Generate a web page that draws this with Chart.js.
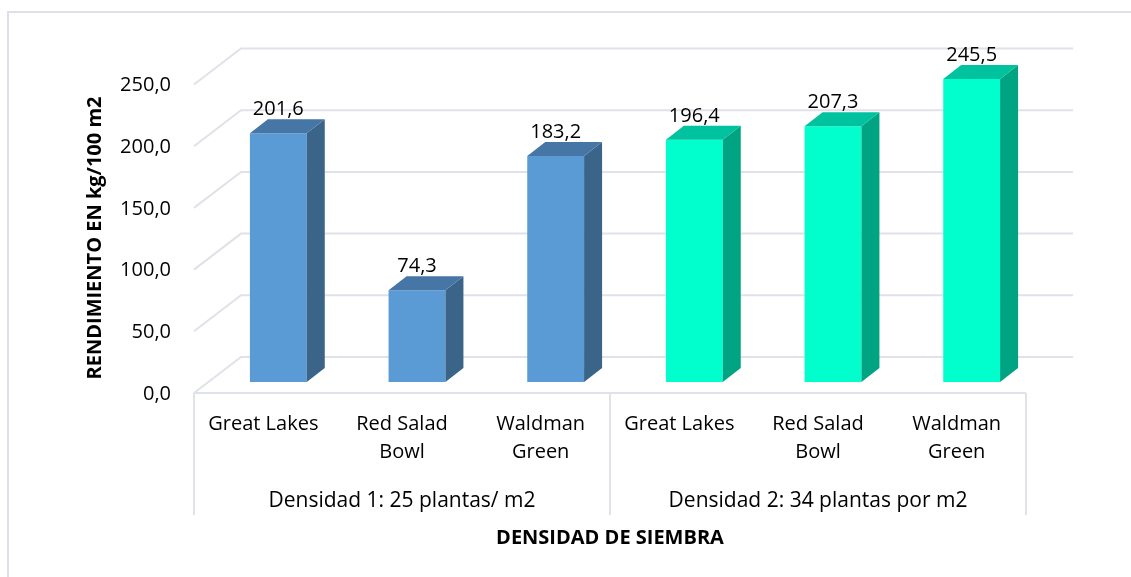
<!DOCTYPE html>
<html>
<head>
<meta charset="utf-8">
<script src="https://cdn.jsdelivr.net/npm/chart.js@4/dist/chart.umd.min.js"></script>
<style>
  html, body { margin: 0; padding: 0; background: #ffffff; }
  #wrap { width: 1131px; height: 577px; position: relative; }
</style>
</head>
<body>
<div id="wrap"><canvas id="c" width="1131" height="577"></canvas></div>
<script>
// ---- data ----
const categories = [["Great Lakes"], ["Red Salad", "Bowl"], ["Waldman", "Green"],
                    ["Great Lakes"], ["Red Salad", "Bowl"], ["Waldman", "Green"]];
const yieldValues = [201.6, 74.3, 183.2, 196.4, 207.3, 245.5];
const groupLabels = ["Densidad 1: 25 plantas/ m2", "Densidad 2: 34 plantas por m2"];
const groupSizes = [3, 3];
const yTicks = [0, 50, 100, 150, 200, 250];
const yTitle = "RENDIMIENTO EN kg/100 m2";
const xTitle = "DENSIDAD DE SIEMBRA";

// ---- styling ----
const FONT = "'Open Sans', 'Noto Sans', sans-serif";
const faceColors = [
  { front: "#5B9BD5", top: "#4676A6", side: "#3A6589" },
  { front: "#00FFCC", top: "#00C29E", side: "#00A482" }
];
const barGroup = [];
groupSizes.forEach((n, g) => { for (let i = 0; i < n; i++) barGroup.push(g); });

const fmt = v => v.toFixed(1).replace(".", ",");

// 3D geometry offsets (pixels, relative to bar front plane)
const BACK = { dx: 32, dy: -25 };
const FRONT = { dx: -15, dy: 11 };
const BAR_DEPTH = { dx: 18, dy: -14 };
const GRID = "#dfe2e8";

const plot3d = {
  id: "plot3d",
  beforeDraw(chart) {
    const ctx = chart.ctx;
    ctx.save();
    ctx.strokeStyle = "#dde1e7";
    ctx.lineWidth = 2;
    ctx.strokeRect(8, 12, 1140, 600);
    ctx.restore();
  },
  beforeDatasetsDraw(chart) {
    const { ctx, chartArea: a, scales: { x, y } } = chart;
    ctx.save();
    ctx.strokeStyle = GRID;
    ctx.lineWidth = 2;
    yTicks.forEach(v => {
      const py = y.getPixelForValue(v);
      ctx.beginPath();
      ctx.moveTo(a.left + FRONT.dx, py + FRONT.dy);
      ctx.lineTo(a.left + BACK.dx, py + BACK.dy);
      ctx.lineTo(a.right + BACK.dx, py + BACK.dy);
      ctx.stroke();
    });
    // category table
    const y0 = y.getPixelForValue(0) + FRONT.dy;
    const yEnd = 515;
    ctx.beginPath();
    ctx.moveTo(a.left + FRONT.dx, y0);
    ctx.lineTo(a.right + FRONT.dx, y0);
    ctx.stroke();
    const step = (x.getPixelForValue(1) - x.getPixelForValue(0));
    const edges = [0];
    let acc = 0;
    groupSizes.forEach(s => { acc += s; edges.push(acc); });
    edges.forEach(e => {
      const px = x.getPixelForValue(0) - step / 2 + e * step + FRONT.dx;
      ctx.beginPath();
      ctx.moveTo(px, y0);
      ctx.lineTo(px, yEnd);
      ctx.stroke();
    });
    // group labels
    ctx.fillStyle = "#000";
    ctx.font = "21px " + FONT;
    ctx.textAlign = "center";
    ctx.textBaseline = "middle";
    for (let g = 0; g < groupLabels.length; g++) {
      const cx = x.getPixelForValue(0) - step / 2 + (edges[g] + edges[g + 1]) / 2 * step + FRONT.dx;
      ctx.fillText(groupLabels[g], cx, 501);
    }
    // axis titles
    ctx.font = "bold 20px " + FONT;
    ctx.fillText(xTitle, (a.left + a.right) / 2 + FRONT.dx, 538);
    ctx.save();
    ctx.translate(95, 238);
    ctx.rotate(-Math.PI / 2);
    ctx.fillText(yTitle, 0, 0);
    ctx.restore();
    ctx.restore();
  },
  afterDatasetsDraw(chart) {
    const { ctx } = chart;
    const meta = chart.getDatasetMeta(0);
    ctx.save();
    meta.data.forEach((bar, i) => {
      const c = faceColors[barGroup[i]];
      const w = bar.width;
      const l = bar.x - w / 2, r = bar.x + w / 2;
      const top = bar.y, base = bar.base;
      // side face
      ctx.fillStyle = c.side;
      ctx.beginPath();
      ctx.moveTo(r, top);
      ctx.lineTo(r + BAR_DEPTH.dx, top + BAR_DEPTH.dy);
      ctx.lineTo(r + BAR_DEPTH.dx, base + BAR_DEPTH.dy);
      ctx.lineTo(r, base);
      ctx.closePath();
      ctx.fill();
      // top face
      ctx.fillStyle = c.top;
      ctx.beginPath();
      ctx.moveTo(l, top);
      ctx.lineTo(r, top);
      ctx.lineTo(r + BAR_DEPTH.dx, top + BAR_DEPTH.dy);
      ctx.lineTo(l + BAR_DEPTH.dx, top + BAR_DEPTH.dy);
      ctx.closePath();
      ctx.fill();
      // value label
      ctx.fillStyle = "#000";
      ctx.font = "20px " + FONT;
      ctx.textAlign = "center";
      ctx.textBaseline = "alphabetic";
      ctx.fillText(fmt(yieldValues[i]), bar.x, top - 18);
    });
    ctx.restore();
  }
};

new Chart(document.getElementById("c"), {
  type: "bar",
  data: {
    labels: categories,
    datasets: [{
      data: yieldValues,
      backgroundColor: barGroup.map(g => faceColors[g].front),
      borderWidth: 0,
      barPercentage: 0.41,
      categoryPercentage: 1.0
    }]
  },
  options: {
    responsive: false,
    animation: false,
    devicePixelRatio: 1,
    layout: { padding: { left: 0, top: 73.5, right: 90, bottom: 0 } },
    plugins: { legend: { display: false }, tooltip: { enabled: false }, title: { display: false } },
    scales: {
      x: {
        grid: { display: false, drawTicks: false, tickLength: 0 },
        border: { display: false },
        ticks: {
          color: "#000",
          font: { family: FONT, size: 20, lineHeight: 1.4 },
          padding: 28,
          labelOffset: -15,
          autoSkip: false,
          maxRotation: 0,
          minRotation: 0
        },
        afterFit: s => { s.height = 195; }
      },
      y: {
        min: 0, max: 250,
        grid: { display: false, drawTicks: false, tickLength: 0 },
        border: { display: false },
        ticks: {
          stepSize: 50,
          color: "#000",
          font: { family: FONT, size: 20 },
          padding: 38,
          labelOffset: 12,
          callback: v => fmt(v)
        },
        afterFit: s => { s.width = 209; }
      }
    }
  },
  plugins: [plot3d]
});
</script>
</body>
</html>
